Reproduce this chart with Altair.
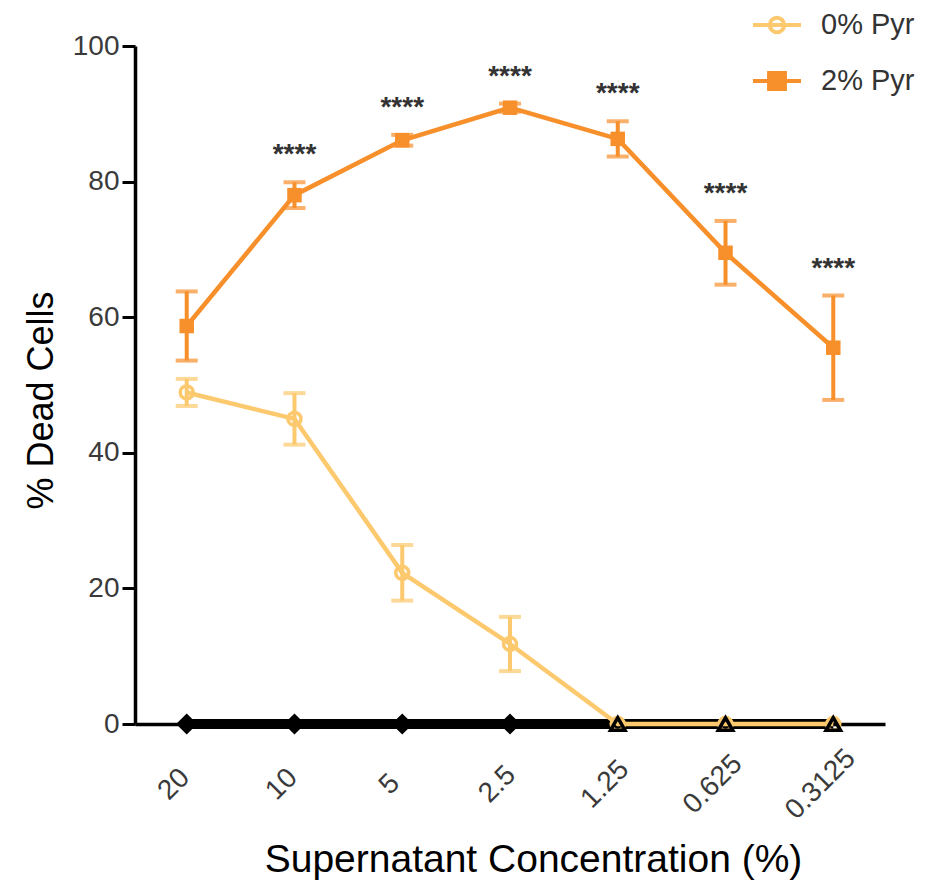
import altair as alt
import pandas as pd

# ---------------- data ----------------
concentrations = ["20", "10", "5", "2.5", "1.25", "0.625", "0.3125"]

pyr0_mean = [48.9, 45.0, 22.3, 11.8, 0.0, 0.0, 0.0]
pyr0_err = [2.0, 3.8, 4.1, 4.0, 0.0, 0.0, 0.0]

pyr2_mean = [58.7, 78.0, 86.1, 90.9, 86.3, 69.5, 55.5]
pyr2_err = [5.1, 1.9, 0.8, 0.6, 2.6, 4.7, 7.7]

significance = ["", "****", "****", "****", "****", "****", "****"]

# two further series that sit on the x axis (not in the legend)
zero_series_a = [0, 0, 0, 0, 0, 0, 0]          # filled black diamonds
zero_series_a_marked = ["20", "10", "5", "2.5"]
zero_series_b = [0, 0, 0]                       # open black triangles
zero_series_b_conc = ["1.25", "0.625", "0.3125"]

series_names = ["0% Pyr", "2% Pyr"]
YELLOW = "#FCC96E"
ORANGE = "#F78F2B"
FONT = "Liberation Sans"

# ---------------- tables ----------------
rows = []
for name, means, errs in [("0% Pyr", pyr0_mean, pyr0_err), ("2% Pyr", pyr2_mean, pyr2_err)]:
    for c, m, e, s in zip(concentrations, means, errs, significance):
        rows.append({"series": name, "conc": c, "mean": m, "err": e,
                     "lo": m - e, "hi": m + e,
                     "sig": s if name == "2% Pyr" else ""})
df = pd.DataFrame(rows)

zero_a = pd.DataFrame({"conc": concentrations, "value": zero_series_a})
zero_a["marked"] = zero_a["conc"].isin(zero_series_a_marked)
zero_b = pd.DataFrame({"conc": zero_series_b_conc, "value": zero_series_b})

# ---------------- shared encodings ----------------
x_axis = alt.Axis(
    title="Supernatant Concentration (%)",
    labelAngle=-45, labelAlign="center", labelBaseline="middle",
    labelPadding=60, labelOffset=-13, ticks=False,
    domainColor="black", domainWidth=3.5, grid=False,
    labelFont=FONT, labelFontSize=28, labelColor="#3a3a3a",
    titleFont=FONT, titleFontSize=39, titleFontWeight="normal", titleColor="black",
    titleX=398, titleY=147, titleAlign="center", titleBaseline="alphabetic",
)
y_axis = alt.Axis(
    title="% Dead Cells", values=[0, 20, 40, 60, 80, 100],
    tickSize=13, tickWidth=3, tickColor="black",
    domainColor="black", domainWidth=3.5, grid=False,
    labelFont=FONT, labelFontSize=28, labelColor="#3a3a3a", labelPadding=3,
    titleFont=FONT, titleFontSize=36, titleFontWeight="normal", titleColor="black",
    titleX=-83, titleY=354, titleAngle=-90, titleAlign="center", titleBaseline="alphabetic",
)
x_scale = alt.Scale(type="point", domain=concentrations, padding=0.48)
y_scale = alt.Scale(domain=[0, 100], nice=False, zero=True)

X = alt.X("conc:N", scale=x_scale, axis=x_axis, sort=concentrations)


def Y(field):
    return alt.Y(f"{field}:Q", scale=y_scale, axis=y_axis)


base = alt.Chart(df)


def series_layers(name, color, point_mark):
    src = base.transform_filter(alt.datum.series == name)
    with_err = src.transform_filter(alt.datum.err > 0)
    rule = with_err.mark_rule(color=color, strokeWidth=4).encode(x=X, y=Y("lo"), y2="hi:Q")
    cap_lo = with_err.mark_tick(color=color, orient="horizontal", size=22, thickness=4).encode(x=X, y=Y("lo"))
    cap_hi = with_err.mark_tick(color=color, orient="horizontal", size=22, thickness=4).encode(x=X, y=Y("hi"))
    line = src.mark_line(color=color, strokeWidth=4.5).encode(x=X, y=Y("mean"))
    pts = src.mark_point(**point_mark).encode(x=X, y=Y("mean"))
    return [rule, cap_lo, cap_hi, line, pts]


zero_line = alt.Chart(zero_a).mark_line(color="black", strokeWidth=10).encode(x=X, y=Y("value"))
zero_diamonds = alt.Chart(zero_a).transform_filter(alt.datum.marked).mark_point(
    shape="diamond", filled=True, color="black", size=450, opacity=1
).encode(x=X, y=Y("value"))

yellow_layers = series_layers("0% Pyr", YELLOW, dict(shape="circle", filled=False, color=YELLOW,
                                                    size=170, strokeWidth=3.5, opacity=1))
orange_layers = series_layers("2% Pyr", ORANGE, dict(shape="square", filled=True, color=ORANGE,
                                                    size=210, opacity=1))

zero_triangles = alt.Chart(zero_b).mark_point(
    shape="triangle-up", filled=False, color="black", size=210, strokeWidth=3.5, opacity=1
).encode(x=X, y=Y("value"))

stars = base.transform_filter(alt.datum.sig != "").mark_text(
    font=FONT, fontSize=28, fontWeight="bold", color="#333333", baseline="alphabetic", dy=-19
).encode(x=X, y=Y("hi"), text="sig:N")

# legend (drawn by the library from a dedicated invisible layer)
legend_paths = [
    "M-1,0L1,0M-0.3,0A0.3,0.3,0,1,0,0.3,0A0.3,0.3,0,1,0,-0.3,0",
    "M-1,0L1,0M-0.33,-0.33L0.33,-0.33L0.33,0.33L-0.33,0.33Z",
]
legend = alt.Legend(
    title=None, orient="none", legendX=616, legendY=-47,
    symbolSize=2304, symbolStrokeWidth=4, symbolOpacity=1,
    labelFont=FONT, labelFontSize=29, labelColor="#333333", labelOffset=18,
    rowPadding=14, padding=0,
)
legend_layer = base.mark_point(opacity=0, size=10).encode(
    x=X, y=Y("mean"),
    stroke=alt.Stroke("series:N", scale=alt.Scale(domain=series_names, range=[YELLOW, ORANGE]), legend=legend),
    fill=alt.Fill("series:N", scale=alt.Scale(domain=series_names, range=["transparent", ORANGE]), legend=legend),
    shape=alt.Shape("series:N", scale=alt.Scale(domain=series_names, range=legend_paths), legend=legend),
)

chart = alt.layer(
    zero_line, zero_diamonds, *yellow_layers, *orange_layers, zero_triangles, stars, legend_layer
).properties(
    width=750, height=678,
    autosize=alt.AutoSizeParams(type="none"),
    padding={"left": 127, "top": 38, "right": 33, "bottom": 156},
).configure_view(stroke=None)

chart.save("out.html", embed_options={"renderer": "svg", "actions": False})
